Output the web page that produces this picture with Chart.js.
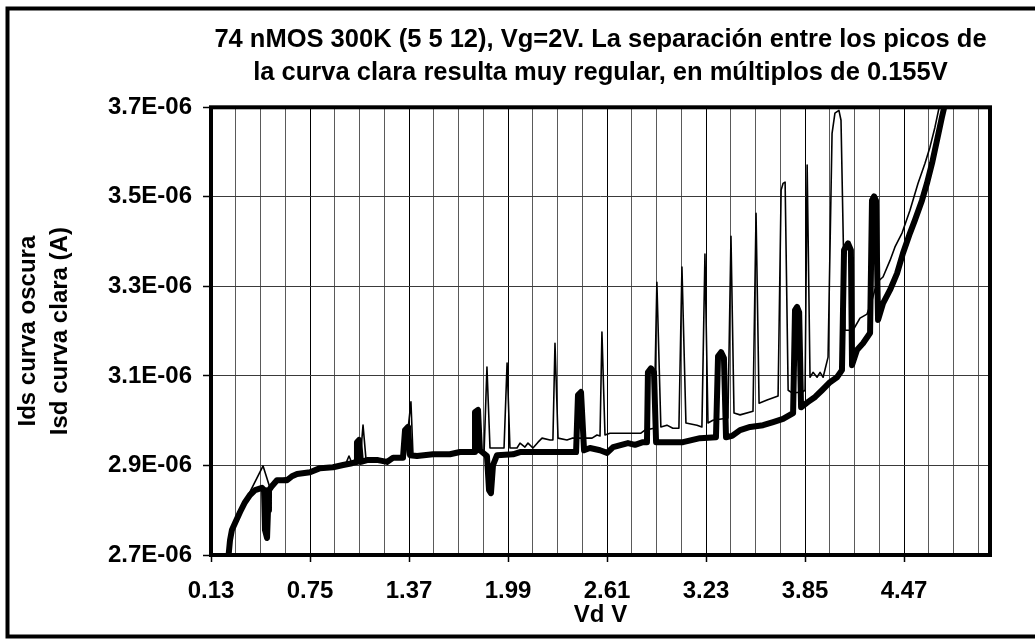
<!DOCTYPE html>
<html>
<head>
<meta charset="utf-8">
<script src="https://cdn.jsdelivr.net/npm/chart.js@4.4.1/dist/chart.umd.min.js"></script>
<style>
  html, body { margin: 0; padding: 0; background: #fff; }
</style>
</head>
<body>
<canvas id="chart" width="1035" height="639"></canvas>
<script>
// ── Data (Vd in V, current in µA) ───────────────────────────────────────────
const vdDark  = [0.236,0.249,0.261,0.280,0.312,0.343,0.374,0.406,0.449,0.462,0.468,0.481,0.487,0.493,0.512,0.543,0.606,0.637,0.669,0.750,
                 0.813,0.894,0.957,1.013,1.038,1.044,1.057,1.069,1.107,1.176,1.232,1.270,1.332,1.345,1.364,1.376,1.420,1.520,1.626,1.689,
                 1.777,1.783,1.802,1.814,1.858,1.871,1.883,1.896,1.921,2.021,2.065,2.221,2.416,2.428,2.447,2.466,2.503,2.566,2.610,2.648,
                 2.741,2.785,2.835,2.860,2.866,2.885,2.904,2.917,3.086,3.192,3.292,3.305,3.324,3.342,3.355,3.393,3.443,3.506,3.587,3.650,
                 3.712,3.775,3.787,3.800,3.813,3.825,3.869,3.913,3.956,4.006,4.050,4.081,4.094,4.119,4.137,4.144,4.175,4.213,4.257,4.269,
                 4.282,4.294,4.307,4.338,4.382,4.426,4.463,4.507,4.538,4.582,4.613,4.645,4.676,4.707,4.739];
const idsDark = [2.684,2.733,2.756,2.771,2.796,2.818,2.834,2.845,2.850,2.845,2.756,2.738,2.800,2.845,2.854,2.867,2.867,2.876,2.881,2.885,
                 2.894,2.896,2.901,2.905,2.908,2.952,2.957,2.908,2.912,2.912,2.908,2.917,2.917,2.979,2.986,2.923,2.921,2.925,2.925,2.930,
                 2.930,3.019,3.024,2.934,2.921,2.845,2.838,2.901,2.923,2.925,2.930,2.930,2.930,3.057,3.064,2.934,2.939,2.934,2.928,2.941,
                 2.950,2.946,2.952,2.952,3.108,3.117,3.108,2.952,2.952,2.961,2.963,3.144,3.153,3.140,2.963,2.966,2.979,2.986,2.990,2.997,
                 3.004,3.017,3.247,3.254,3.242,3.030,3.042,3.053,3.068,3.086,3.097,3.113,3.381,3.396,3.381,3.124,3.158,3.173,3.196,3.492,
                 3.501,3.492,3.225,3.262,3.292,3.329,3.374,3.419,3.448,3.492,3.530,3.575,3.626,3.678,3.727];

const vdLight  = [0.236,0.249,0.261,0.280,0.312,0.343,0.374,0.456,0.499,0.543,0.637,0.750,0.894,0.975,0.994,1.013,1.063,1.082,1.101,1.220,
                  1.345,1.382,1.395,1.564,1.840,1.858,1.877,1.965,1.984,2.002,2.046,2.065,2.096,2.115,2.146,2.178,2.203,2.253,2.271,2.284,
                  2.303,2.359,2.391,2.516,2.547,2.566,2.578,2.597,2.628,2.822,2.847,2.904,2.922,2.947,2.985,3.022,3.060,3.079,3.104,3.173,
                  3.204,3.223,3.242,3.273,3.367,3.386,3.405,3.443,3.524,3.543,3.562,3.612,3.681,3.700,3.712,3.725,3.744,3.769,3.832,3.850,
                  3.863,3.881,3.900,3.925,3.944,3.963,3.994,4.019,4.037,4.062,4.075,4.100,4.150,4.194,4.238,4.269,4.300,4.338,4.382,4.413,
                  4.457,4.507,4.557,4.601,4.632,4.663,4.695,4.707];
const isdLight = [2.684,2.733,2.756,2.771,2.796,2.818,2.841,2.899,2.850,2.867,2.876,2.888,2.899,2.905,2.921,2.905,2.908,2.990,2.912,2.912,
                  2.917,3.042,2.923,2.925,2.930,3.120,2.939,2.939,3.129,2.939,2.939,2.950,2.941,2.950,2.939,2.952,2.961,2.957,2.957,3.173,
                  2.961,2.957,2.961,2.961,2.968,2.966,3.198,2.968,2.972,2.972,2.979,2.983,3.309,2.986,2.990,2.983,2.983,3.343,2.995,2.990,
                  2.986,3.372,2.995,3.001,3.006,3.412,3.017,3.013,3.021,3.463,3.039,3.046,3.055,3.515,3.530,3.533,3.068,3.062,3.064,3.068,
                  3.571,3.097,3.108,3.097,3.108,3.097,3.142,3.642,3.687,3.693,3.671,3.202,3.202,3.229,3.238,3.269,3.309,3.321,3.358,3.388,
                  3.419,3.470,3.530,3.575,3.611,3.655,3.709,3.727];

// ── Axes ──────────────────────────────────────────────────────────────────────
const X_LABELS = ['0.13','0.75','1.37','1.99','2.61','3.23','3.85','4.47'];
const X_MIN = 0.13, X_MAX = 5.008, X_GRID_STEP = 0.155;   // gridline every 0.155 V, label every 4th
const Y_TICKS = [2.7, 2.9, 3.1, 3.3, 3.5, 3.7];

const TITLE   = ['74 nMOS 300K (5 5 12), Vg=2V. La separación entre los picos de',
                 'la curva clara resulta muy regular, en múltiplos de 0.155V'];
const Y_TITLE = ['Ids curva oscura', 'Isd curva clara (A)'];
const X_TITLE = 'Vd V';

const FONT = "'Liberation Sans', Arial, Helvetica, sans-serif";

// white page, thick frame round the plot and round the whole chart
const frame = {
  id: 'frame',
  beforeDraw(chart) {
    const { ctx, width, height } = chart;
    ctx.save();
    ctx.fillStyle = '#fff';
    ctx.fillRect(0, 0, width, height);
    ctx.restore();
  },
  afterDatasetsDraw(chart) {
    const { ctx, chartArea: a } = chart;
    ctx.save();
    ctx.strokeStyle = '#000';
    ctx.lineWidth = 4;
    ctx.strokeRect(a.left, a.top, a.right - a.left, a.bottom - a.top);
    ctx.restore();
  },
  afterDraw(chart) {
    const { ctx } = chart;
    ctx.save();
    ctx.strokeStyle = '#000';
    ctx.lineWidth = 4;
    ctx.strokeRect(7.5, 8.5, 1100, 628);
    ctx.restore();
  },
};

const line = (xs, ys, w) => ({
  data: xs.map((x, i) => ({ x, y: ys[i] })),
  borderColor: '#000', borderWidth: w,
  borderJoinStyle: 'round', borderCapStyle: 'round',
  pointRadius: 0, tension: 0, clip: 0,
});

new Chart(document.getElementById('chart'), {
  type: 'line',
  data: {
    datasets: [
      { label: 'Isd curva clara', ...line(vdLight, isdLight, 1.6) },
      { label: 'Ids curva oscura', ...line(vdDark, idsDark, 6) },
    ],
  },
  plugins: [frame],
  options: {
    responsive: false,
    animation: false,
    events: [],
    layout: { padding: { left: 0, right: 45, top: 0, bottom: 0 } },
    plugins: {
      legend: { display: false },
      tooltip: { enabled: false },
      title: {
        display: true, fullSize: false, text: TITLE, color: '#000',
        font: { family: FONT, size: 25.5, weight: 'bold', lineHeight: 1.3 },
        padding: { top: 23, bottom: 18 },
      },
    },
    scales: {
      x: {
        type: 'linear', min: X_MIN, max: X_MAX,
        afterBuildTicks: s => {
          s.ticks = [];
          for (let v = X_MIN; v <= X_MAX; v += X_GRID_STEP) s.ticks.push({ value: +v.toFixed(3) });
        },
        afterFit: s => { s.height = 84; },
        border: { display: false },
        grid: {
          color: c => c.index % 4 === 0 ? '#000' : '#5a5a5a',
          lineWidth: 1,
          tickLength: 7,
          tickColor: c => c.index % 4 === 0 ? '#000' : 'rgba(0,0,0,0)',
          tickWidth: 1.5,
        },
        ticks: {
          autoSkip: false, maxRotation: 0, padding: 15, color: '#000',
          font: { family: FONT, size: 24, weight: 'bold' },
          callback: (v, i) => i % 4 === 0 ? X_LABELS[i / 4] : '',
        },
        title: {
          display: true, text: X_TITLE, color: '#000',
          font: { family: FONT, size: 24, weight: 'bold' },
          padding: { top: 0, bottom: 9 },
        },
      },
      y: {
        min: Y_TICKS[0], max: Y_TICKS[Y_TICKS.length - 1],
        afterBuildTicks: s => { s.ticks = Y_TICKS.map(value => ({ value })); },
        afterFit: s => { s.width = 211; },
        border: { display: false },
        grid: { color: '#3a3a3a', lineWidth: 1, tickLength: 8, tickColor: '#000', tickWidth: 1.5 },
        ticks: {
          padding: 11, color: '#000',
          font: { family: FONT, size: 24, weight: 'bold' },
          callback: v => v.toFixed(1) + 'E-06',
        },
        title: {
          display: true, text: Y_TITLE, color: '#000',
          font: { family: FONT, size: 24, weight: 'bold', lineHeight: 1.333 },
          padding: { top: 12, bottom: 0 },
        },
      },
    },
  },
});
</script>
</body>
</html>
